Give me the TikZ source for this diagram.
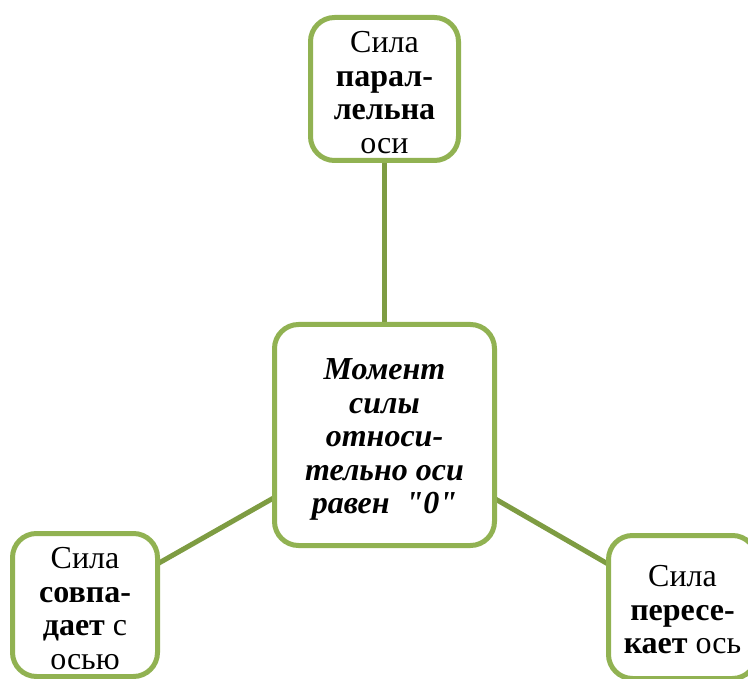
\documentclass[tikz,border=0pt]{standalone}
\usepackage{fontspec}
\setmainfont{Liberation Serif}
\newfontfamily\qfont{Liberation Serif}
\usetikzlibrary{backgrounds}
\definecolor{boxgreen}{RGB}{145,178,82}
\definecolor{linegreen}{RGB}{126,156,66}
\tikzset{
  box/.style={draw=boxgreen, line width=5pt, fill=white, rounded corners=24pt, inner sep=0pt},
  txt/.style={align=center, inner sep=0pt, font=\fontsize{32}{33.5}\selectfont},
  conn/.style={draw=linegreen, line width=5pt}
}
\begin{document}
\begin{tikzpicture}[x=1pt,y=-1pt]
\useasboundingbox (0,0) rectangle (748,679);
\clip (0,0) rectangle (748,679);
\node[box, minimum width=148pt, minimum height=143pt] (t) at (384.5,89) {};
\node[txt] (tt) at ([yshift=-3.5pt]t.center)
  {Сила\\\textbf{парал-}\\\textbf{лельна}\\оси};
\node[box, minimum width=220pt, minimum height=221pt] (c) at (384.5,435) {};
\node[txt] (ct) at ([yshift=-4.5pt]c.center)
  {\textbf{\itshape Момент}\\\textbf{\itshape силы}\\\textbf{\itshape относи-}\\\textbf{\itshape тельно оси}\\\textbf{\itshape равен\ \ {\qfont "0"}}};
\node[box, minimum width=145pt, minimum height=143pt] (l) at (85,605) {};
\node[txt] (lt) at ([yshift=-3.5pt]l.center)
  {Сила\\\textbf{совпа-}\\\textbf{дает} с\\осью};
\node[box, minimum width=148pt, minimum height=143pt] (r) at (682.5,607) {};
\node[txt] (rt) at ([yshift=-3pt]r.center)
  {Сила\\\textbf{пересе-}\\\textbf{кает} ось};
\begin{scope}[on background layer]
\draw[conn] (c.center) -- (t.center);
\draw[conn] (c.center) -- (l.center);
\draw[conn] (c.center) -- (r.center);
\end{scope}
\end{tikzpicture}
\end{document}
